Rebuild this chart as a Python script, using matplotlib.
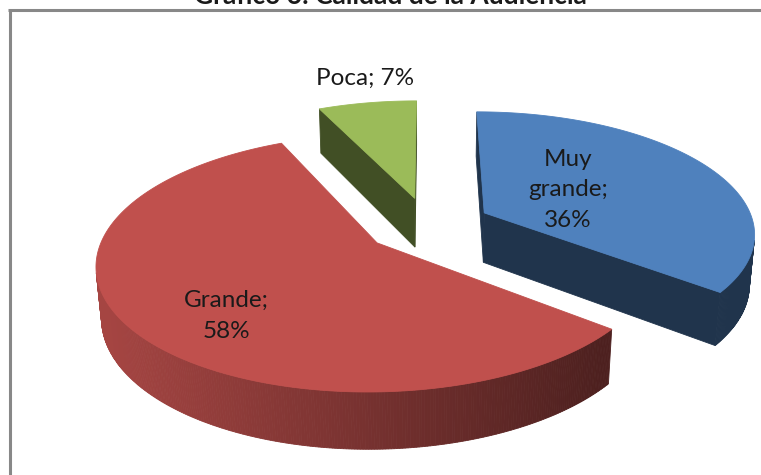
import numpy as np
import matplotlib
matplotlib.use("Agg")
import matplotlib.pyplot as plt
from matplotlib.patches import Polygon
from matplotlib.lines import Line2D
from matplotlib.colors import to_rgb

# ---------------- data ----------------
title = "Gráfico 6: Calidad de la Audiencia"
categories = ["Muy grande", "Grande", "Poca"]
values = [36, 58, 7]
pct_labels = ["36%", "58%", "7%"]
label_texts = ["Muy\ngrande;\n36%", "Grande;\n58%", "Poca; 7%"]
colors = ["#4F81BD", "#C0504D", "#9BBB59"]

# ---------------- layout / style ----------------
W, H = 761, 475
FONT = ["Lato", "DejaVu Sans"]
CX, CY = 428, 225          # projected centre of the pie
S = 270                    # scale
alpha = np.radians(26.4)   # elevation
D = 5.82                   # camera distance (in radii)
h = 0.21                   # thickness (in radii)
explode = 0.235
sa, ca = np.sin(alpha), np.cos(alpha)
cam = np.array([0.0, -D * ca, D * sa])
# label placement: (radius, angle offset deg) per slice
label_pos = [(0.39, -6.0), (0.72, -9.4), (1.30, 2.0)]
side_factor = [0.40, None, 0.42]   # None -> gradient


def proj(X, Y, Z):
    w = 1 + (Y * ca - Z * sa) / D
    u = X * S / w
    v = (Y * sa + Z * ca) * S / w
    return CX + u, CY - v


fig = plt.figure(figsize=(W / 100, H / 100), dpi=100)
ax = fig.add_axes([0, 0, 1, 1])
ax.set_xlim(0, W)
ax.set_ylim(H, 0)
ax.axis("off")

vals = np.array(values, dtype=float)
frac = vals / vals.sum()
bounds = np.concatenate([[0], np.cumsum(frac)]) * 2 * np.pi

slices = []
for i in range(len(vals)):
    t0, t1 = bounds[i], bounds[i + 1]
    mid = 0.5 * (t0 + t1)
    ox, oy = explode * np.sin(mid), explode * np.cos(mid)
    slices.append((i, t0, t1, mid, ox, oy))

# draw back-to-front
order = sorted(slices, key=lambda s: -s[5])


def shade(c, f):
    r, g, b = to_rgb(c)
    return (r * f, g * f, b * f)


for (i, t0, t1, mid, ox, oy) in order:
    base = colors[i]
    n = max(int((t1 - t0) / np.radians(0.5)), 4)
    th = np.linspace(t0, t1, n)
    ax_pts = ox + np.sin(th)
    ay_pts = oy + np.cos(th)
    # outer wall segments
    tx, ty = proj(ax_pts, ay_pts, 0)
    bx, by = proj(ax_pts, ay_pts, -h)
    xmin_g, xmax_g = 105, 605
    for k in range(n - 1):
        tm = 0.5 * (th[k] + th[k + 1])
        P = np.array([ox + np.sin(tm), oy + np.cos(tm), -h / 2])
        nrm = np.array([np.sin(tm), np.cos(tm), 0])
        if np.dot(nrm, cam - P) <= 0:
            continue
        if side_factor[i] is None:
            xm = 0.5 * (tx[k] + tx[k + 1])
            f = 0.86 - 0.46 * np.clip((xm - xmin_g) / (xmax_g - xmin_g), 0, 1)
        else:
            f = side_factor[i]
        col = shade(base, f)
        quad = [(tx[k], ty[k]), (tx[k + 1], ty[k + 1]),
                (bx[k + 1], by[k + 1]), (bx[k], by[k])]
        ax.add_patch(Polygon(quad, closed=True, facecolor=col,
                             edgecolor=col, lw=0.6, zorder=2))
    # radial walls
    apex = np.array([ox, oy, 0.0])
    for tt, nrm in ((t0, np.array([-np.cos(t0), np.sin(t0), 0])),
                    (t1, np.array([np.cos(t1), -np.sin(t1), 0]))):
        if np.dot(nrm, cam - apex) <= 0:
            continue
        ex, ey = ox + np.sin(tt), oy + np.cos(tt)
        p1 = proj(ox, oy, 0)
        p2 = proj(ex, ey, 0)
        p3 = proj(ex, ey, -h)
        p4 = proj(ox, oy, -h)
        f = side_factor[i] if side_factor[i] is not None else 0.45
        col = shade(base, f)
        ax.add_patch(Polygon([p1, p2, p3, p4], closed=True, facecolor=col,
                             edgecolor=col, lw=0.6, zorder=2))
    # top face
    px, py = proj(np.concatenate([[ox], ax_pts]),
                  np.concatenate([[oy], ay_pts]), 0)
    ax.add_patch(Polygon(np.column_stack([px, py]), closed=True,
                         facecolor=base, edgecolor=base, lw=0.6, zorder=2))

# labels
for (i, t0, t1, mid, ox, oy) in slices:
    r, dth = label_pos[i]
    a = mid + np.radians(dth)
    lx, ly = proj(ox + r * np.sin(a), oy + r * np.cos(a), 0)
    ax.text(lx, ly, label_texts[i], ha="center", va="center",
            fontsize=17.5, family=FONT, color="#1a1a1a",
            linespacing=1.55, zorder=5)

# title (cut off at top edge, as in the reference) and frame
ax.text(390, 3.5, title, ha="center", va="baseline", fontsize=19,
        fontweight="bold", family=FONT, color="#1a1a1a", zorder=5)
ax.add_line(Line2D([8, W], [9.7, 9.7], color="#888888", lw=2.2, zorder=6,
                   solid_capstyle="butt"))
ax.add_line(Line2D([10, 10], [8.6, H], color="#888888", lw=2.2, zorder=6,
                   solid_capstyle="butt"))

fig.savefig("out.png", dpi=100)
